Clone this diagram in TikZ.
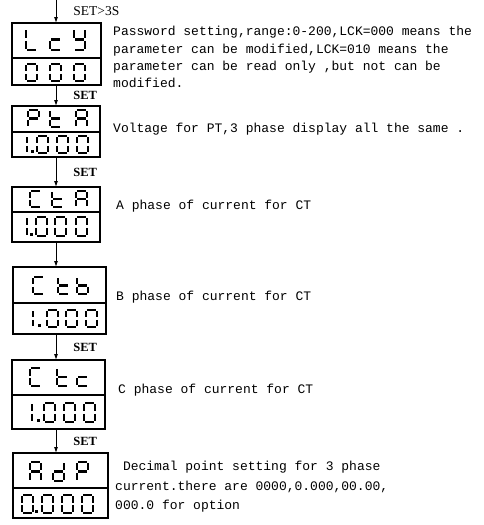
\documentclass[tikz,border=0pt]{standalone}
\usepackage{fontspec}
\setmainfont{Liberation Serif}
\setmonofont{Liberation Mono}
\usetikzlibrary{arrows.meta,positioning}
\tikzset{
  dispbox/.style={rectangle,draw,line width=2.4pt,anchor=north west,
    inner sep=0pt,outer sep=0pt},
  seg/.style={line width=2.8pt,line cap=butt},
  arr/.style={-{Latex[length=6pt,width=4pt]},line width=0.9pt},
  setlbl/.style={font=\bfseries\fontsize{12.5}{12.5}\selectfont,inner sep=0pt},
  desc/.style={font=\ttfamily\fontsize{13}{17.4}\selectfont,align=left,inner sep=0pt}
}
% seven segment glyph: left, top, width, height, segments
\newcommand{\segglyph}[5]{%
  \begin{scope}[shift={(#1,#2)}]
    \coordinate (a1) at (1.4,0);        \coordinate (a2) at (#3-1.4,0);
    \coordinate (b1) at (#3,1.4);       \coordinate (b2) at (#3,#4/2-1.4);
    \coordinate (c1) at (#3,#4/2+1.4);  \coordinate (c2) at (#3,#4-1.4);
    \coordinate (d1) at (1.4,#4);       \coordinate (d2) at (#3-1.4,#4);
    \coordinate (e1) at (0,#4/2+1.4);   \coordinate (e2) at (0,#4-1.4);
    \coordinate (f1) at (0,1.4);        \coordinate (f2) at (0,#4/2-1.4);
    \coordinate (g1) at (1.4,#4/2);     \coordinate (g2) at (#3-1.4,#4/2);
    \foreach \s in {#5} {\draw[seg] (\s1) -- (\s2);}
  \end{scope}}
\newcommand{\segdot}[2]{\fill (#1,#2-2.8) rectangle ++(2.8,2.8);}

\begin{document}
\begin{tikzpicture}[x=1pt,y=-1pt]
  \useasboundingbox (0,0) rectangle (483,525);
  \coordinate (spine) at (56,0);

  % LCK
  \node[dispbox,minimum width=89pt,minimum height=35pt] (lck) at (12,23) {};
  \node[dispbox,minimum width=89pt,minimum height=27pt,below=0pt of lck] (lckval) {};
  \segglyph{26}{29}{11}{21}{f,e,d}
  \segglyph{50}{29}{11}{21}{g,e,d}
  \segglyph{74}{29}{11}{21}{f,b,g,c,d}
  \foreach \x in {26,50,74} {\segglyph{\x}{64}{11}{17}{a,b,c,d,e,f}}
  \draw[arr] (spine) -- (lck.north -| spine)
    node[setlbl,midway,right=17pt,font=\fontsize{13.5}{13.5}\selectfont] (set0) {SET>3S};
  \node[desc,anchor=north west] (lckdesc) at (113,26)
    {Password setting,range:0-200,LCK=000 means the\\
     parameter can be modified,LCK=010 means the\\
     parameter can be read only ,but not can be\\
     modified.};

  % PT
  \node[dispbox,minimum width=88pt,minimum height=26pt] (pta) at (12,106) {};
  \node[dispbox,minimum width=88pt,minimum height=25pt,below=0pt of pta] (ptaval) {};
  \segglyph{28}{110}{11}{17}{a,b,f,g,e}
  \segglyph{50}{110}{11}{17}{f,g,e,d}
  \segglyph{76}{110}{11}{17}{a,b,c,e,f,g}
  \segglyph{27}{136}{0}{17}{b,c}
  \segdot{31}{153}
  \foreach \x in {37,57,77} {\segglyph{\x}{136}{11}{17}{a,b,c,d,e,f}}
  \draw[arr] (lckval.south -| spine) -- (pta.north -| spine)
    node[setlbl,midway,right=17pt] (set1) {SET};
  \node[desc,anchor=west] (ptadesc) at (113,129)
    {Voltage for PT,3 phase display all the same .};

  % CT A
  \node[dispbox,minimum width=88pt,minimum height=25pt] (cta) at (12,187) {};
  \node[dispbox,minimum width=88pt,minimum height=30pt,below=0pt of cta] (ctaval) {};
  \segglyph{30}{191}{11}{16}{a,f,e,d}
  \segglyph{52}{191}{11}{16}{f,g,e,d}
  \segglyph{76}{191}{11}{16}{a,b,c,e,f,g}
  \segglyph{27}{217}{0}{19}{b,c}
  \segdot{30}{236}
  \foreach \x in {36,55,76} {\segglyph{\x}{217}{11}{19}{a,b,c,d,e,f}}
  \draw[arr] (ptaval.south -| spine) -- (cta.north -| spine)
    node[setlbl,midway,right=17pt] (set2) {SET};
  \node[desc,anchor=west] (ctadesc) at (116,206) {A phase of current for CT};

  % CT B
  \node[dispbox,minimum width=93pt,minimum height=36pt] (ctb) at (13,267) {};
  \node[dispbox,minimum width=93pt,minimum height=31pt,below=0pt of ctb] (ctbval) {};
  \segglyph{33}{277}{11}{17}{a,f,e,d}
  \segglyph{58}{277}{11}{17}{f,g,e,d}
  \segglyph{77}{277}{11}{17}{f,e,d,c,g}
  \segglyph{33}{310}{0}{17}{b,c}
  \segdot{38}{327}
  \foreach \x in {47,66,86} {\segglyph{\x}{310}{11}{17}{a,b,c,d,e,f}}
  \draw[arr] (ctaval.south -| spine) -- (ctb.north -| spine);
  \node[desc,anchor=west] (ctbdesc) at (116,297) {B phase of current for CT};

  % CT C
  \node[dispbox,minimum width=93pt,minimum height=35pt] (ctc) at (12,360) {};
  \node[dispbox,minimum width=93pt,minimum height=34pt,below=0pt of ctc] (ctcval) {};
  \segglyph{30}{368}{11}{18}{a,f,e,d}
  \segglyph{57}{368}{11}{18}{f,g,e,d}
  \segglyph{77}{368}{11}{18}{g,e,d}
  \segglyph{32}{403}{0}{19}{b,c}
  \segdot{37}{422}
  \foreach \x in {44,64,84} {\segglyph{\x}{403}{11}{19}{a,b,c,d,e,f}}
  \draw[arr] (ctbval.south -| spine) -- (ctc.north -| spine)
    node[setlbl,midway,right=17pt] (set3) {SET};
  \node[desc,anchor=west] (ctcdesc) at (118,390) {C phase of current for CT};

  % ADP
  \node[dispbox,minimum width=95pt,minimum height=35pt] (adp) at (13,453) {};
  \node[dispbox,minimum width=95pt,minimum height=30pt,below=0pt of adp] (adpval) {};
  \segglyph{30}{462}{11}{19}{a,b,c,e,f,g}
  \segglyph{53}{462}{11}{19}{b,c,d,e,g}
  \segglyph{77}{462}{11}{19}{a,b,f,g,e}
  \segglyph{22}{495}{11}{18}{a,b,c,d,e,f}
  \segdot{35}{513}
  \foreach \x in {42,62,82} {\segglyph{\x}{495}{11}{18}{a,b,c,d,e,f}}
  \draw[arr] (ctcval.south -| spine) -- (adp.north -| spine)
    node[setlbl,midway,right=17pt] (set4) {SET};
  \node[desc,anchor=north west,font=\ttfamily\fontsize{13}{19.5}\selectfont]
    (adpdesc) at (115,461)
    {\ Decimal point setting for 3 phase\\
     current.there are 0000,0.000,00.00,\\
     000.0 for option};

\end{tikzpicture}
\end{document}
